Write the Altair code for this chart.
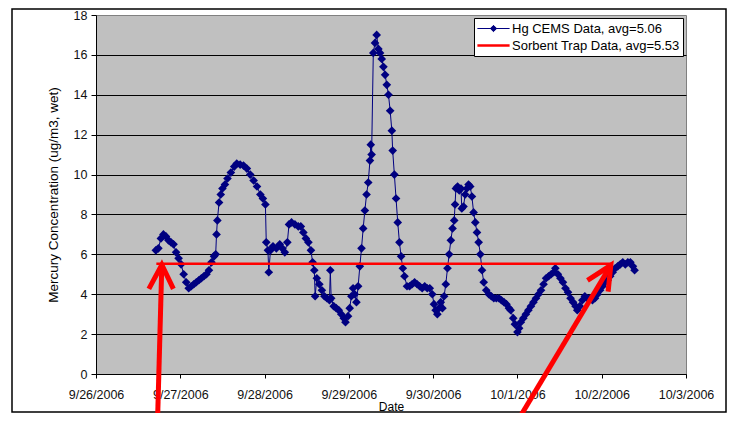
import altair as alt
import pandas as pd

# ---- data (days after 9/26/2006 00:00, concentration) ----
cems_day = [0.71, 0.74, 0.77, 0.80, 0.83, 0.86, 0.89, 0.92, 0.95, 0.98, 1.01, 1.04, 1.07, 1.10, 1.13,
            1.16, 1.19, 1.22, 1.25, 1.28, 1.31, 1.34, 1.37, 1.40, 1.42, 1.43, 1.44, 1.46, 1.48, 1.50,
            1.53, 1.56, 1.60, 1.64, 1.67, 1.71, 1.75, 1.79, 1.83, 1.87, 1.91, 1.95, 1.98, 2.01, 2.02,
            2.04, 2.05, 2.07, 2.10, 2.14, 2.18, 2.21, 2.24, 2.27, 2.29, 2.32, 2.36, 2.40, 2.43, 2.46,
            2.49, 2.52, 2.55, 2.57, 2.59, 2.60, 2.62, 2.65, 2.68, 2.71, 2.74, 2.77, 2.78, 2.79, 2.82,
            2.85, 2.88, 2.91, 2.94, 2.96, 2.99, 3.01, 3.03, 3.05, 3.07, 3.09, 3.11, 3.13, 3.15, 3.17,
            3.19, 3.21, 3.23, 3.25, 3.26, 3.27, 3.29, 3.31, 3.33, 3.35, 3.37, 3.39, 3.41, 3.43, 3.45,
            3.47, 3.49, 3.51, 3.52, 3.54, 3.56, 3.58, 3.60, 3.62, 3.64, 3.66, 3.69, 3.72, 3.75, 3.78,
            3.81, 3.84, 3.87, 3.90, 3.93, 3.96, 3.99, 4.01, 4.03, 4.05, 4.07, 4.09, 4.11, 4.13, 4.15,
            4.17, 4.19, 4.21, 4.23, 4.25, 4.26, 4.27, 4.29, 4.31, 4.33, 4.34, 4.36, 4.38, 4.40, 4.42,
            4.44, 4.46, 4.48, 4.50, 4.52, 4.54, 4.56, 4.58, 4.60, 4.63, 4.66, 4.69, 4.72, 4.75, 4.78,
            4.81, 4.84, 4.87, 4.90, 4.92, 4.95, 4.97, 5.00, 5.02, 5.04, 5.07, 5.10, 5.13, 5.16, 5.19,
            5.22, 5.25, 5.28, 5.31, 5.34, 5.37, 5.40, 5.43, 5.45, 5.48, 5.51, 5.54, 5.57, 5.60, 5.63,
            5.66, 5.69, 5.71, 5.74, 5.77, 5.80, 5.83, 5.86, 5.89, 5.92, 5.95, 5.98, 6.01, 6.04, 6.07,
            6.10, 6.13, 6.16, 6.19, 6.22, 6.25, 6.28, 6.31, 6.34, 6.37, 6.39]
cems_val = [6.2, 6.3, 6.8, 7.0, 6.9, 6.7, 6.6, 6.5, 6.1, 5.8, 5.5, 5.0, 4.6, 4.3, 4.4,
            4.5, 4.6, 4.7, 4.8, 4.9, 5.0, 5.2, 5.6, 5.9, 6.0, 7.0, 7.7, 8.6, 9.0, 9.3,
            9.5, 9.8, 10.1, 10.4, 10.55, 10.5, 10.45, 10.3, 10.0, 9.7, 9.4, 9.0, 8.8, 8.5, 6.6,
            6.2, 5.1, 6.2, 6.4, 6.3, 6.5, 6.3, 6.1, 6.6, 7.5, 7.6, 7.5, 7.4, 7.4, 7.1,
            6.8, 6.6, 6.2, 5.6, 5.2, 3.9, 4.8, 4.5, 4.2, 3.9, 3.8, 3.7, 5.2, 3.8, 3.4,
            3.3, 3.2, 3.0, 2.8, 2.6, 2.9, 3.3, 3.9, 4.3, 4.0, 3.6, 4.4, 5.4, 6.3, 7.3,
            8.2, 9.0, 9.6, 10.7, 11.5, 11.0, 16.1, 16.6, 17.0, 16.3, 16.1, 15.8, 15.4, 15.0, 14.5,
            14.0, 13.2, 12.2, 11.2, 10.0, 8.8, 7.6, 6.6, 5.9, 5.3, 4.9, 4.4, 4.4, 4.5, 4.6,
            4.5, 4.4, 4.3, 4.4, 4.3, 4.3, 4.0, 3.5, 3.2, 3.0, 3.3, 3.6, 3.3, 3.9, 4.5,
            5.3, 6.0, 6.7, 7.3, 7.7, 8.5, 9.3, 9.4, 9.2, 9.3, 8.3, 8.4, 9.0, 9.3, 9.5,
            9.4, 8.9, 8.1, 7.6, 7.1, 6.6, 6.0, 5.2, 4.6, 4.2, 4.0, 3.9, 3.8, 3.8, 3.8,
            3.7, 3.6, 3.5, 3.3, 3.2, 2.8, 2.5, 2.1, 2.3, 2.6, 2.8, 3.0, 3.2, 3.4, 3.6,
            3.8, 4.0, 4.2, 4.5, 4.8, 4.9, 5.0, 5.1, 5.3, 5.0, 4.8, 4.6, 4.3, 4.1, 3.8,
            3.6, 3.4, 3.2, 3.4, 3.7, 3.9, 3.8, 3.8, 3.7, 3.8, 4.0, 4.2, 4.4, 4.6, 4.7,
            4.9, 5.1, 5.3, 5.4, 5.5, 5.6, 5.5, 5.6, 5.6, 5.4, 5.2]

trap_day = [0.716, 6.116]
trap_val = [5.53, 5.53]

series_names = ["Hg CEMS Data, avg=5.06", "Sorbent Trap Data, avg=5.53"]
series_colors = ["#000080", "#FF0000"]
series_widths = [1, 2.6]
series_symbols = ["M-2.3,0H2.3M0,-0.45L0.45,0L0,0.45L-0.45,0Z", "M-2.3,0H2.3"]

y_ticks = [0, 2, 4, 6, 8, 10, 12, 14, 16, 18]
x_tick_dates = [(9, 26), (9, 27), (9, 28), (9, 29), (9, 30), (10, 1), (10, 2), (10, 3)]

# red annotation arrows (polylines: head arm - tip - head arm, and shaft tail - tip)
arrow_part = ["h1", "h1", "h1", "s1", "s1", "h2", "h2", "h2", "s2", "s2"]
arrow_ord = [0, 1, 2, 0, 1, 0, 1, 2, 0, 1]
arrow_day = [0.627, 0.781, 0.918, 0.726, 0.781, 5.831, 6.108, 6.076, 4.91, 6.108]
arrow_val = [4.27, 5.48, 4.27, -3.0, 5.48, 4.69, 5.45, 4.13, -3.0, 5.45]

# ---- tables ----
base = pd.Timestamp("2006-09-26")
to_time = lambda days: [base + pd.Timedelta(days=d) for d in days]

cems = pd.DataFrame({"t": to_time(cems_day), "v": cems_val, "series": series_names[0]})
trap = pd.DataFrame({"t": to_time(trap_day), "v": trap_val, "series": series_names[1]})
legend_df = pd.DataFrame({"t": to_time([-3, -3]), "v": [5, 5], "series": series_names})
arrows = pd.DataFrame({"t": to_time(arrow_day), "v": arrow_val, "part": arrow_part, "ord": arrow_ord})
frame_df = pd.DataFrame({"a": [0]})

FONT = "Liberation Sans"

x_scale = alt.Scale(domain=[alt.DateTime(year=2006, month=9, date=26),
                            alt.DateTime(year=2006, month=10, date=3)], nice=False)
y_scale = alt.Scale(domain=[0, 18], nice=False)

x_enc = alt.X("t:T", scale=x_scale, axis=alt.Axis(
    values=[alt.DateTime(year=2006, month=m, date=d) for m, d in x_tick_dates],
    format="%-m/%-d/%Y", title="Date", grid=False, tickSize=4, labelPadding=10,
    titlePadding=1, labelFlush=False, labelOverlap=False, labelFontSize=12.5))
y_enc = alt.Y("v:Q", scale=y_scale, axis=alt.Axis(
    values=y_ticks, format="d", title="Mercury Concentration (ug/m3, wet)",
    tickSize=5, labelPadding=4, titlePadding=13, grid=True, labelFontSize=12.5, titleFontSize=13.5,
    gridColor={"condition": {"test": "datum.value >= 18", "value": "transparent"}, "value": "black"},
    gridWidth=1))

leg = alt.Legend(title=None, orient="top-right", offset=3, fillColor="white", strokeColor="black",
                 padding=3, labelFont=FONT, labelFontSize=13, labelColor="black", labelLimit=400,
                 symbolSize=196, symbolOffset=8, labelOffset=10, rowPadding=1)
stroke_enc = alt.Stroke("series:N", scale=alt.Scale(domain=series_names, range=series_colors), legend=leg)
fill_enc = alt.Fill("series:N", scale=alt.Scale(domain=series_names, range=series_colors), legend=leg)
sw_enc = alt.StrokeWidth("series:N", scale=alt.Scale(domain=series_names, range=series_widths), legend=leg)
shape_enc = alt.Shape("series:N", scale=alt.Scale(domain=series_names, range=series_symbols), legend=leg)

frame = alt.Chart(frame_df).mark_rect(fillOpacity=0, stroke="black", strokeWidth=1.5, clip=False).encode(
    x=alt.value(-84), x2=alt.value(630), y=alt.value(-6), y2=alt.value(397))

cems_line = alt.Chart(cems).mark_line(interpolate="linear").encode(
    x=x_enc, y=y_enc, stroke=stroke_enc, strokeWidth=sw_enc)
cems_pts = alt.Chart(cems).mark_point(shape="diamond", filled=True, size=75, opacity=1,
                                      color="#000080").encode(x=x_enc, y=y_enc)
trap_line = alt.Chart(trap).mark_line().encode(x=x_enc, y=y_enc, stroke=stroke_enc, strokeWidth=sw_enc)
legend_pts = alt.Chart(legend_df).mark_point(clip=True, opacity=1, filled=False).encode(
    x=x_enc, y=y_enc, stroke=stroke_enc, fill=fill_enc, strokeWidth=sw_enc, shape=shape_enc)
arrow_lines = alt.Chart(arrows).mark_line(color="#FF0000", strokeWidth=5, strokeJoin="miter",
                                          strokeCap="butt", clip=False).encode(
    x=x_enc, y=y_enc, detail="part:N", order="ord:Q")

chart = alt.layer(frame, cems_line, cems_pts, trap_line, legend_pts, arrow_lines).properties(
    width=590, height=359,
    padding={"left": 88, "top": 7, "right": 42, "bottom": 39},
    autosize=alt.AutoSizeParams(type="none"),
    background="white",
).configure_view(fill="#C0C0C0", stroke="#808080", strokeWidth=1).configure_axis(
    labelFont=FONT, labelFontSize=12, labelColor="#111111", titleFont=FONT, titleFontSize=12,
    titleFontWeight="normal", titleColor="black", domainColor="black", tickColor="black",
    domainWidth=1, tickWidth=1)

chart.save("out.html", embed_options={"renderer": "svg", "actions": False})
